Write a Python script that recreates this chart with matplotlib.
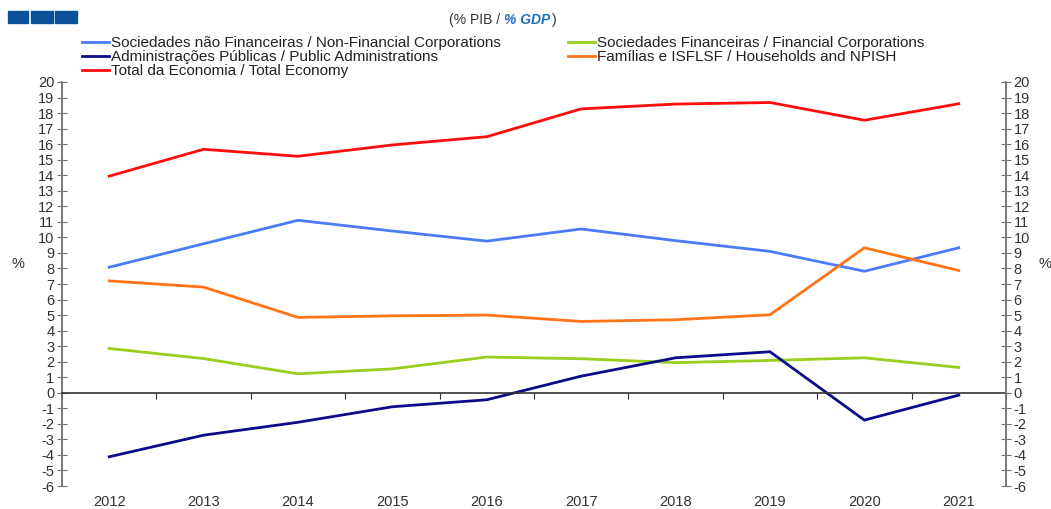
import numpy as np
import matplotlib
matplotlib.use("Agg")
import matplotlib.pyplot as plt
from matplotlib.patches import Rectangle
import matplotlib.transforms as mtransforms

years = ["2012", "2013", "2014", "2015", "2016", "2017", "2018", "2019", "2020", "2021"]

nao_financeiras = [8.08, 9.59, 11.1, 10.41, 9.76, 10.54, 9.79, 9.1, 7.82, 9.33]
financeiras = [2.85, 2.2, 1.22, 1.54, 2.3, 2.19, 1.94, 2.08, 2.25, 1.63]
administracoes = [-4.12, -2.73, -1.9, -0.9, -0.45, 1.07, 2.25, 2.64, -1.76, -0.15]
familias = [7.2, 6.8, 4.85, 4.95, 5.0, 4.59, 4.7, 5.02, 9.33, 7.87]
total = [13.94, 15.67, 15.22, 15.95, 16.48, 18.27, 18.58, 18.68, 17.54, 18.6]

labels = [
    "Sociedades não Financeiras / Non-Financial Corporations",
    "Sociedades Financeiras / Financial Corporations",
    "Administrações Públicas / Public Administrations",
    "Famílias e ISFLSF / Households and NPISH",
    "Total da Economia / Total Economy",
]
series = [nao_financeiras, financeiras, administracoes, familias, total]
colors = ["#4a7cf8", "#9acd1c", "#0c0c8a", "#ff7417", "#ff0d0d"]

plt.rcParams["font.family"] = ["Liberation Sans", "DejaVu Sans"]
plt.rcParams["axes.unicode_minus"] = False

fig = plt.figure(figsize=(10.51, 5.09), dpi=100)
ax = fig.add_axes([62 / 1051, 1 - 486 / 509, 944 / 1051, 404 / 509])

x = np.arange(len(years))
lines = []
for vals, col in zip(series, colors):
    (ln,) = ax.plot(x, vals, color=col, lw=2.0, solid_joinstyle="round")
    lines.append(ln)

ax.set_xlim(-0.5, len(years) - 0.5)
ax.set_ylim(-6, 20)
ax.set_yticks(np.arange(-6, 21, 1))
ax.tick_params(axis="y", direction="inout", length=7, color="#707070",
               labelsize=10.5, labelcolor="#333333", pad=2)

ax.spines["top"].set_visible(False)
ax.spines["left"].set_color("#707070")
ax.spines["left"].set_linewidth(1.3)
ax.spines["right"].set_visible(False)
ax.spines["bottom"].set_position(("data", 0))
ax.spines["bottom"].set_color("#333333")
ax.spines["bottom"].set_linewidth(1.2)
ax.set_xticks(np.arange(-0.5, len(years), 1))
ax.set_xticklabels([])
ax.tick_params(axis="x", direction="out", length=4, color="#333333")

tr = mtransforms.blended_transform_factory(ax.transData, ax.transAxes)
for i, yr in enumerate(years):
    ax.text(i, -0.022, yr, transform=tr, ha="center", va="top",
            fontsize=10.5, color="#333333")

ax2 = ax.twinx()
ax2.set_ylim(-6, 20)
ax2.set_yticks(np.arange(-6, 21, 1))
ax2.tick_params(axis="y", direction="inout", length=7, color="#707070",
                labelsize=10.5, labelcolor="#333333", pad=2)
for s in ["top", "bottom", "left"]:
    ax2.spines[s].set_visible(False)
ax2.spines["right"].set_color("#707070")
ax2.spines["right"].set_linewidth(1.3)

fig.text(18 / 1051, 1 - 264 / 509, "%", fontsize=10.5, color="#333333",
         ha="center", va="center")
fig.text(1045 / 1051, 1 - 264 / 509, "%", fontsize=10.5, color="#333333",
         ha="center", va="center")

# legenda em duas colunas
leg_kw = dict(loc="upper left", frameon=False, fontsize=11, handlelength=1.75,
              handletextpad=0.12, labelspacing=0.0, borderpad=0.0, borderaxespad=0.0)
leg1 = fig.legend([lines[0], lines[2], lines[4]], [labels[0], labels[2], labels[4]],
                  bbox_to_anchor=(82 / 1051, 1 - 36 / 509), **leg_kw)
leg2 = fig.legend([lines[1], lines[3]], [labels[1], labels[3]],
                  bbox_to_anchor=(568 / 1051, 1 - 36 / 509), **leg_kw)
for leg in (leg1, leg2):
    for t in leg.get_texts():
        t.set_color("#222222")

# subtítulo
fig.text(0.4795, 1 - 20 / 509, "(% PIB / ", fontsize=10, color="#333333",
         ha="right", va="center")
fig.text(0.4795, 1 - 20 / 509, "% GDP", fontsize=10, color="#1f70b8",
         ha="left", va="center", fontweight="bold", style="italic")
fig.text(0.4795 + 48 / 1051, 1 - 20 / 509, ")", fontsize=10, color="#333333",
         ha="left", va="center")

# logotipo
for x0, w in [(8, 20), (31, 22), (55, 22)]:
    fig.patches.append(Rectangle((x0 / 1051, 1 - 23 / 509), w / 1051, 12 / 509,
                                 transform=fig.transFigure, color="#0b529b"))

fig.savefig("out.png", dpi=100)
